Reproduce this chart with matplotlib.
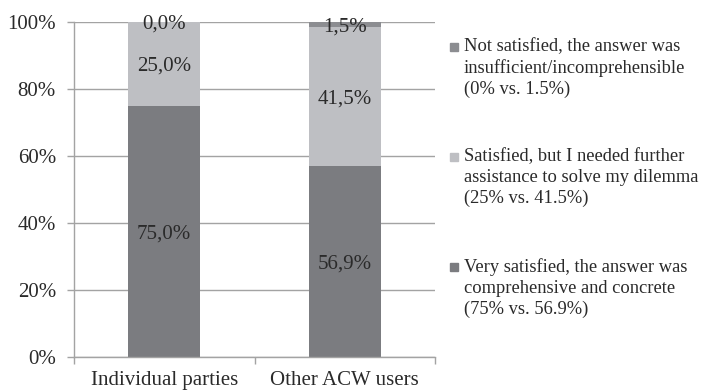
import matplotlib
matplotlib.use("Agg")
import matplotlib.pyplot as plt
from matplotlib.patches import Rectangle

plt.rcParams["font.family"] = ["Liberation Serif", "DejaVu Serif"]

groups = ["Individual parties", "Other ACW users"]
very_satisfied = [75.0, 56.9]
satisfied_help = [25.0, 41.5]
not_satisfied = [0.0, 1.5]
y_ticks = [0, 20, 40, 60, 80, 100]
legend_labels = [
    "Not satisfied, the answer was\ninsufficient/incomprehensible\n(0% vs. 1.5%)",
    "Satisfied, but I needed further\nassistance to solve my dilemma\n(25% vs. 41.5%)",
    "Very satisfied, the answer was\ncomprehensive and concrete\n(75% vs. 56.9%)",
]

c_dark = "#7b7c80"
c_light = "#bebfc3"
c_top = "#8c8d91"
c_axis = "#a3a3a3"
c_text = "#2a2a2a"

W, H = 707, 391
fig = plt.figure(figsize=(W / 100, H / 100), dpi=100)
ax = fig.add_axes([74 / W, (H - 357) / H, 361 / W, 335 / H])

x = list(range(len(groups)))
series = [(very_satisfied, c_dark), (satisfied_help, c_light), (not_satisfied, c_top)]
bottoms = [0.0] * len(groups)
for vals, col in series:
    ax.bar(x, vals, width=0.4, bottom=bottoms, color=col, zorder=2)
    for i, v in enumerate(vals):
        ax.text(x[i], bottoms[i] + v / 2, f"{v:.1f}%".replace(".", ","),
                ha="center", va="center_baseline", fontsize=15, color=c_text,
                zorder=3)
    bottoms = [b + v for b, v in zip(bottoms, vals)]

ax.set_xlim(-0.5, 1.5)
ax.set_ylim(0, 100)
ax.set_yticks(y_ticks)
ax.set_yticklabels([f"{t}%" for t in y_ticks], fontsize=15, color=c_text)
ax.yaxis.grid(True, color=c_axis, linewidth=1.0, zorder=0)
ax.set_axisbelow(True)

ax.set_xticks(x)
ax.set_xticklabels(groups, fontsize=15, color=c_text)
ax.set_xticks([-0.5, 0.5, 1.5], minor=True)
ax.tick_params(axis="x", which="major", length=0, pad=10)
ax.tick_params(axis="x", which="minor", length=5, color=c_axis, width=1.0)
ax.tick_params(axis="y", length=5, color=c_axis, width=1.0, pad=8)

for side in ("top", "right"):
    ax.spines[side].set_visible(False)
for side in ("left", "bottom"):
    ax.spines[side].set_color(c_axis)
    ax.spines[side].set_linewidth(1.0)

# legend drawn as squares plus three-line labels
legend_colors = [c_top, c_light, c_dark]
marker_tops = [43, 153, 263]
for lab, col, my in zip(legend_labels, legend_colors, marker_tops):
    fig.text(464 / W, 1 - (my - 5) / H, lab, ha="left", va="top", fontsize=13.3,
             color=c_text, linespacing=1.3)
    fig.patches.append(Rectangle((450 / W, 1 - (my + 8) / H), 8 / W, 8 / H,
                                 transform=fig.transFigure, color=col))

fig.savefig("out.png", dpi=100)
